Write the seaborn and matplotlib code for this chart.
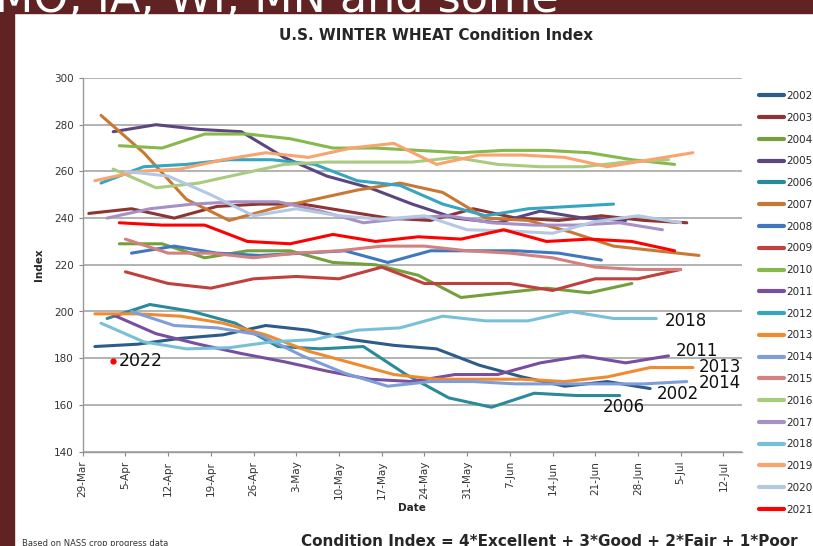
#!/usr/bin/env python3
"""
U.S. winter wheat condition index by week, 2002-2021 (plus first 2022 rating)
"""

import matplotlib
matplotlib.use('Agg')
import matplotlib.pyplot as plt
import numpy as np
import pandas as pd
import seaborn as sns

# --- data -----------------------------------------------------------------
years = [str(y) for y in range(2002, 2022)]

# week-ending date of the first rating of each season
first_rating = ['31-Mar', '30-Mar', '4-Apr', '3-Apr', '2-Apr', '1-Apr', '6-Apr',
                '5-Apr', '4-Apr', '3-Apr', '1-Apr', '31-Mar', '6-Apr', '5-Apr',
                '3-Apr', '2-Apr', '1-Apr', '31-Mar', '5-Apr', '4-Apr']

# weekly condition index
y2002 = [185, 186, 188.5, 190, 194, 192, 188, 185.5, 184, 177, 172, 168, 170, 167]
y2003 = [242, 244, 240, 245, 246, 246, 243, 240, 239, 244, 240, 239, 241, 239, 238]
y2004 = [229, 229, 223, 226, 226, 221, 220, 215.5, 206, 208, 210, 208, 212]
y2005 = [277, 280, 278, 277, 266, 258, 253, 246, 240, 238, 243, 240, 239]
y2006 = [197, 203, 200, 195, 185, 184, 185, 173, 163, 159, 165, 164, 164]
y2007 = [284, 268, 248, 239, 244, 248, 252, 255, 251, 240, 239, 234, 228, 226, 224]
y2008 = [225, 228, 225, 224, 225, 226, 221, 226, 226, 226, 225, 222]
y2009 = [217, 212, 210, 214, 215, 214, 219, 212, 212, 212, 209, 214, 214, 218]
y2010 = [271, 270, 276, 276, 274, 270, 270, 269, 268, 269, 269, 268, 265, 263]
y2011 = [198.5, 190.5, 186, 182, 178.5, 174.5, 171, 170, 173, 173, 178, 181, 178, 181]
y2012 = [255, 262, 263, 265, 265, 263, 256, 254, 246, 241, 244, 245, 246]
y2013 = [199, 199, 198, 195, 190, 183, 178, 173, 171, 171, 171, 170, 172, 176, 176]
y2014 = [200, 194, 193, 190, 181, 173.5, 168, 170, 170, 169, 169, 169, 169, 170]
y2015 = [231, 225, 225, 223, 225, 226, 228, 228, 226, 225, 223, 219, 218, 218]
y2016 = [261, 253, 255, 259, 263, 264, 264, 264, 266, 263, 262, 262, 264, 265]
y2017 = [240, 244, 246, 247, 247, 243, 238, 240, 241, 238, 237, 237, 238, 235]
y2018 = [195, 187, 184, 184.5, 187, 188, 192, 193, 198, 196, 196, 200, 197, 197]
y2019 = [256, 260, 261, 265, 268, 266, 270, 272, 263, 267, 267, 266, 262, 265, 268]
y2020 = [260, 258, 250, 241, 244, 241, 239.5, 241, 235, 234.5, 233.5, 238.5, 241, 238]
y2021 = [238, 237, 237, 230, 229, 233, 230, 232, 231, 235, 230, 231, 230, 226]

# 2022 so far: a single rating
rating_2022_date = '3-Apr'
rating_2022 = 179

tick_dates = ['29-Mar', '5-Apr', '12-Apr', '19-Apr', '26-Apr', '3-May', '10-May',
              '17-May', '24-May', '31-May', '7-Jun', '14-Jun', '21-Jun', '28-Jun',
              '5-Jul', '12-Jul']

# years labelled directly on the chart
tag_years = ['2018', '2011', '2013', '2014', '2002', '2006']

colors = ['#2E5C8A', '#8E3432', '#74A03C', '#5B4680', '#2A8A9A', '#C87834',
          '#3E78C0', '#C0403D', '#86B84C', '#7A4E9E', '#36A5C0', '#F08A30',
          '#7F9ED8', '#D4807E', '#A9CB80', '#A690C4', '#78C0D8', '#F9A46E',
          '#B4C8E4', '#FF0000']

all_values = [y2002, y2003, y2004, y2005, y2006, y2007, y2008, y2009, y2010, y2011,
              y2012, y2013, y2014, y2015, y2016, y2017, y2018, y2019, y2020, y2021]


def day_of_season(label):
    """days after 29-Mar"""
    d = pd.to_datetime(label + '-2001', format='%d-%b-%Y')
    return (d - pd.Timestamp('2001-03-29')).days


rows = []
for yr, start, vals in zip(years, first_rating, all_values):
    d0 = day_of_season(start)
    for i, v in enumerate(vals):
        rows.append({'year': yr, 'day': d0 + 7 * i, 'index': v})
df = pd.DataFrame(rows)

# --- figure ---------------------------------------------------------------
sns.set_style('white')
plt.rcParams['font.family'] = ['DejaVu Sans']

fig = plt.figure(figsize=(8.13, 5.46), dpi=100)
fig.patch.set_facecolor('white')

# slide frame
maroon = '#602222'
fig.add_artist(plt.Rectangle((0, 0), 14 / 813, 1, transform=fig.transFigure,
                             color=maroon, zorder=0))
fig.add_artist(plt.Rectangle((0, 1 - 13 / 546), 1, 13 / 546, transform=fig.transFigure,
                             color=maroon, zorder=0))
fig.text(-0.006, 1 - 12 / 546, 'MO, IA, WI, MN and some', color='white',
         fontsize=32, ha='left', va='baseline', zorder=1)

ax = fig.add_axes([82.7 / 813, 1 - 451.6 / 546, 659 / 813, 373.6 / 546])

palette = dict(zip(years, colors))
sns.lineplot(data=df, x='day', y='index', hue='year', palette=palette,
             estimator=None, sort=False, linewidth=2.2, ax=ax)

ax.plot(day_of_season(rating_2022_date), rating_2022, 'o', color='#FF0000',
        markersize=3.5, zorder=5)
ax.text(day_of_season(rating_2022_date) + 0.9, rating_2022, '2022',
        fontsize=12.5, va='center', ha='left', color='#111111')

# direct labels near the line ends
tag_x = [95.4, 97.2, 100.9, 100.9, 94.0, 85.2]
tag_y = [196, 183, 176.2, 169.4, 164.7, 159.1]
for t, x, y in zip(tag_years, tag_x, tag_y):
    ax.text(x, y, t, fontsize=12, va='center', ha='left', color='#111111',
            clip_on=False)

ax.set_xlim(0, 108)
ax.set_ylim(140, 300)
ax.set_yticks(np.arange(140, 301, 20))
ax.set_xticks([7 * i for i in range(len(tick_dates))])
ax.set_xticklabels(tick_dates, rotation=90, fontsize=7.5, color='#333333')
ax.tick_params(axis='y', labelsize=7.5, labelcolor='#333333', length=3,
               color='#888888', left=True)
ax.tick_params(axis='x', length=3, color='#888888', bottom=True)

ax.grid(axis='y', color='#A6A6A6', linewidth=1.2)
ax.set_axisbelow(True)
for side in ['top', 'right']:
    ax.spines[side].set_visible(False)
for side in ['left', 'bottom']:
    ax.spines[side].set_color('#999999')
    ax.spines[side].set_linewidth(1.0)

ax.set_xlabel('Date', fontsize=7.5, fontweight='bold', labelpad=3)
ax.set_ylabel('Index', fontsize=7.5, fontweight='bold', labelpad=7)

handles, labels = ax.get_legend_handles_labels()
ax.legend(handles, labels, loc='upper left', bbox_to_anchor=(759 / 813, 1 - 91 / 546),
          bbox_transform=fig.transFigure, frameon=False, fontsize=7.5,
          handlelength=2.4, handletextpad=0.2, labelspacing=1.13,
          borderpad=0, borderaxespad=0)
for line in ax.get_legend().get_lines():
    line.set_linewidth(3)

fig.text(436 / 813, 1 - 35 / 546, 'U.S. WINTER WHEAT Condition Index',
         fontsize=11, fontweight='bold', ha='center', va='center')

fig.text(301 / 813, 1 - 541 / 546, 'Condition Index = 4*Excellent + 3*Good + 2*Fair + 1*Poor',
         fontsize=11, fontweight='bold', ha='left', va='center')
fig.text(22 / 813, 1 - 543 / 546, 'Based on NASS crop progress data',
         fontsize=6, ha='left', va='center', color='#333333')

fig.savefig('out.png', dpi=100)
